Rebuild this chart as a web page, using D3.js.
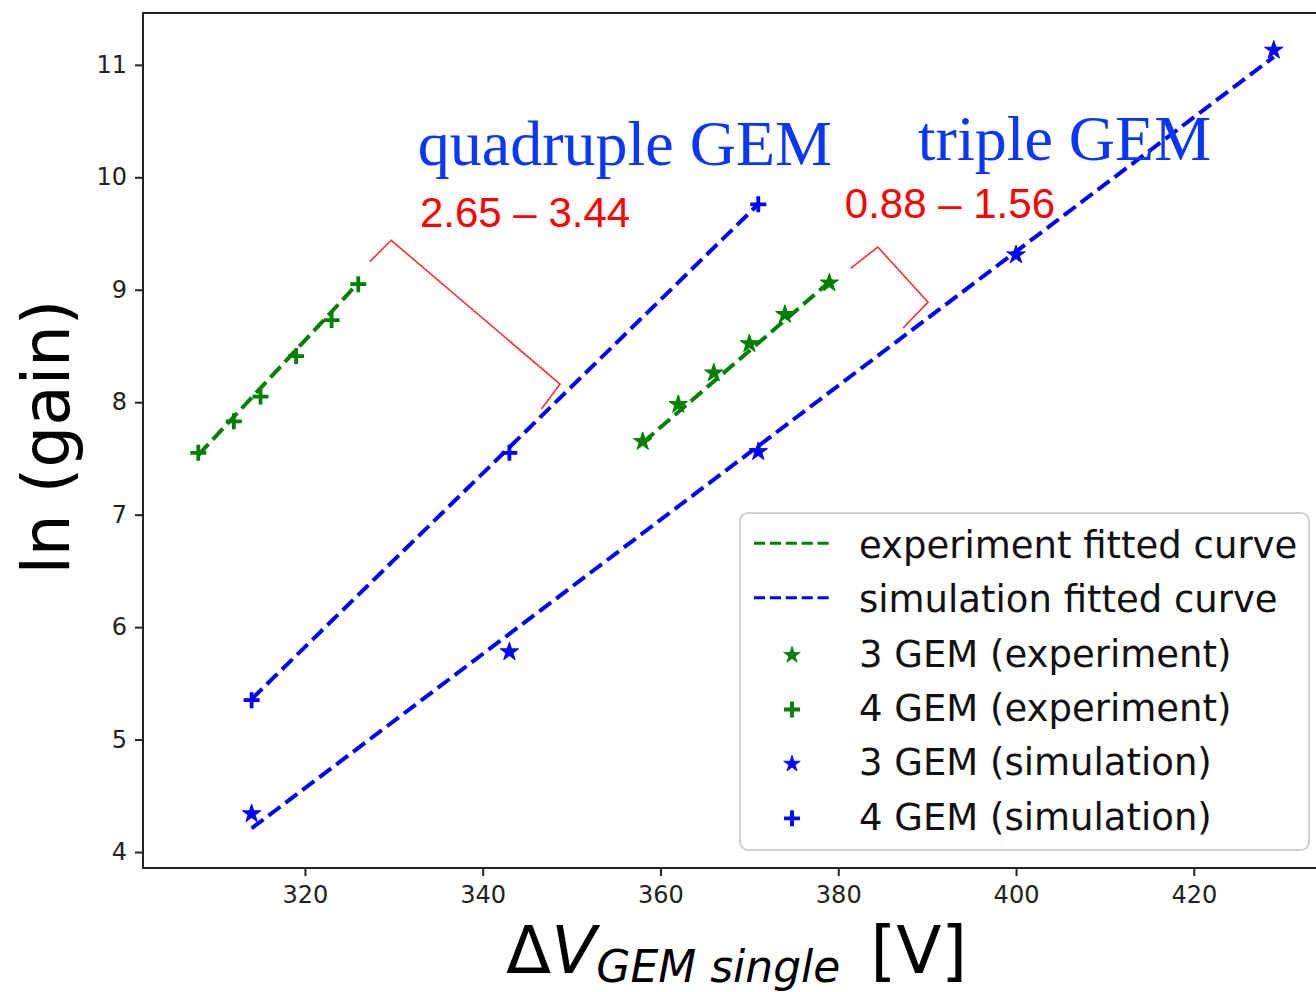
<!DOCTYPE html>
<html>
<head>
<meta charset="utf-8">
<script src="https://cdn.jsdelivr.net/npm/d3@7"></script>
<style>
  html, body { margin: 0; padding: 0; background: #fff; }
  svg { display: block; }
</style>
</head>
<body>
<svg id="chart" width="1316" height="992"></svg>
<script>
// Gain curves of triple and quadruple GEM stacks: ln(gain) vs. voltage per GEM foil

// 4 GEM (experiment)
const exp4V = [308, 312, 315, 319, 323, 326];
const exp4Gain = [7.55, 7.83, 8.05, 8.41, 8.73, 9.05];
// 3 GEM (experiment)
const exp3V = [358, 362, 366, 370, 374, 379];
const exp3Gain = [7.65, 7.98, 8.26, 8.52, 8.78, 9.06];
// 3 GEM (simulation)
const sim3V = [314, 343, 371, 400, 429];
const sim3Gain = [4.34, 5.78, 7.56, 9.31, 11.13];
// 4 GEM (simulation)
const sim4V = [314, 343, 371];
const sim4Gain = [5.35, 7.55, 9.76];

// fitted curves (end points)
const exp4FitV = [308, 326];
const exp4FitGain = [7.53, 9.06];
const exp3FitV = [358, 379];
const exp3FitGain = [7.64, 9.07];
const sim3FitV = [314, 429];
const sim3FitGain = [4.21, 11.07];
const sim4FitV = [314, 371];
const sim4FitGain = [5.36, 9.76];

// axis ticks
const xTicks = [320, 340, 360, 380, 400, 420];
const yTicks = [4, 5, 6, 7, 8, 9, 10, 11];

// gain-gap brackets (V, ln gain)
const quadBracketV = [327.3, 329.7, 348.7, 346.6];
const quadBracketGain = [9.25, 9.44, 8.16, 7.94];
const tripBracketV = [381.4, 384.45, 390.1, 387.3];
const tripBracketGain = [9.19, 9.38, 8.89, 8.66];

// legend
const legendLabels = [
  "experiment fitted curve",
  "simulation fitted curve",
  "3 GEM (experiment)",
  "4 GEM (experiment)",
  "3 GEM (simulation)",
  "4 GEM (simulation)"
];

const GREEN = "#008000";
const BLUE = "#0000ff";
const RED = "#ff0000";
const TEXTBLUE = "#0a36ff";
const FONT = "'DejaVu Sans', sans-serif";

const svg = d3.select("#chart");

const plot = { left: 143, top: 13, right: 1320, bottom: 868 };

const x = d3.scaleLinear().domain([301.78, 434.2]).range([plot.left, plot.right]);
const y = d3.scaleLinear().domain([3.858, 11.461]).range([plot.bottom, plot.top]);

const zip = (xs, ys) => xs.map((v, i) => [v, ys[i]]);
const line = d3.line().x(d => x(d[0])).y(d => y(d[1]));

// axes
const xAxis = d3.axisBottom(x).tickValues(xTicks).tickSize(8).tickPadding(10).tickFormat(d3.format("d"));
const yAxis = d3.axisLeft(y).tickValues(yTicks).tickSize(8).tickPadding(8).tickFormat(d3.format("d"));

const gx = svg.append("g").attr("transform", `translate(0,${plot.bottom})`).call(xAxis);
const gy = svg.append("g").attr("transform", `translate(${plot.left},0)`).call(yAxis);
[gx, gy].forEach(g => {
  g.select(".domain").remove();
  g.selectAll(".tick line").attr("stroke", "#222").attr("stroke-width", 2);
  g.selectAll(".tick text").attr("fill", "#222").style("font-family", FONT).style("font-size", "24px");
});

// frame
svg.append("rect")
  .attr("x", plot.left).attr("y", plot.top)
  .attr("width", plot.right - plot.left).attr("height", plot.bottom - plot.top)
  .attr("fill", "none").attr("stroke", "#222").attr("stroke-width", 2);

// fitted curves
const fits = [
  { v: exp4FitV, g: exp4FitGain, c: GREEN },
  { v: exp3FitV, g: exp3FitGain, c: GREEN },
  { v: sim4FitV, g: sim4FitGain, c: BLUE },
  { v: sim3FitV, g: sim3FitGain, c: BLUE }
];
svg.append("g").selectAll("path").data(fits).join("path")
  .attr("d", d => line(zip(d.v, d.g)))
  .attr("fill", "none")
  .attr("stroke", d => d.c)
  .attr("stroke-width", 4)
  .attr("stroke-dasharray", "14.8 6.4");

// markers
const starPath = (size) => d3.symbol().type(d3.symbolStar).size(size)();
function plusPath(h) { return `M${-h},0H${h}M0,${-h}V${h}`; }

function drawStars(vs, gs, color) {
  svg.append("g").selectAll("path").data(zip(vs, gs)).join("path")
    .attr("transform", d => `translate(${x(d[0])},${y(d[1])})`)
    .attr("d", starPath(105))
    .attr("fill", color).attr("stroke", color).attr("stroke-width", 1);
}
function drawPlus(vs, gs, color) {
  svg.append("g").selectAll("path").data(zip(vs, gs)).join("path")
    .attr("transform", d => `translate(${x(d[0])},${y(d[1])})`)
    .attr("d", plusPath(8))
    .attr("fill", "none").attr("stroke", color).attr("stroke-width", 3.8);
}
drawStars(exp3V, exp3Gain, GREEN);
drawPlus(exp4V, exp4Gain, GREEN);
drawStars(sim3V, sim3Gain, BLUE);
drawPlus(sim4V, sim4Gain, BLUE);

// gap brackets
[[quadBracketV, quadBracketGain], [tripBracketV, tripBracketGain]].forEach(([vs, gs]) => {
  svg.append("path")
    .attr("d", line(zip(vs, gs)))
    .attr("fill", "none").attr("stroke", "#ff3030").attr("stroke-width", 1.6);
});

// annotations
svg.append("text").attr("x", x(332.7)).attr("y", y(10.109))
  .attr("fill", TEXTBLUE).style("font-family", "'Liberation Serif', 'Times New Roman', serif")
  .style("font-size", "64px").text("quadruple GEM");
svg.append("text").attr("x", x(388.95)).attr("y", y(10.154))
  .attr("fill", TEXTBLUE).style("font-family", "'Liberation Serif', 'Times New Roman', serif")
  .style("font-size", "64px").text("triple GEM");
svg.append("text").attr("x", x(332.94)).attr("y", y(9.56))
  .attr("fill", RED).style("font-family", "'Liberation Sans', Arial, sans-serif")
  .style("font-size", "42px").text("2.65 – 3.44");
svg.append("text").attr("x", x(380.74)).attr("y", y(9.64))
  .attr("fill", RED).style("font-family", "'Liberation Sans', Arial, sans-serif")
  .style("font-size", "42px").text("0.88 – 1.56");

// axis labels
svg.append("text")
  .attr("transform", "translate(69,437) rotate(-90)")
  .attr("text-anchor", "middle")
  .style("font-family", FONT).style("font-size", "66px").attr("fill", "#000")
  .text("ln (gain)");

const xl = svg.append("text").attr("x", 506).attr("y", 973)
  .style("font-family", FONT).attr("fill", "#000");
xl.append("tspan").style("font-size", "66px").text("Δ");
xl.append("tspan").style("font-size", "66px").style("font-style", "italic").text("V");
xl.append("tspan").style("font-size", "44px").style("font-style", "italic").attr("dy", 9).text("GEM single");
xl.append("tspan").style("font-size", "66px").attr("dy", -9).attr("dx", 30).text("[V]");

// legend
const lg = svg.append("g").attr("transform", "translate(740,513)");
lg.append("rect").attr("width", 569).attr("height", 337).attr("rx", 8)
  .attr("fill", "#fff").attr("fill-opacity", 0.8)
  .attr("stroke", "#d0d0d0").attr("stroke-width", 2);

const rowY = i => 30.3 + i * 54.4;
const legendKeys = [
  { kind: "line", c: GREEN },
  { kind: "line", c: BLUE },
  { kind: "star", c: GREEN },
  { kind: "plus", c: GREEN },
  { kind: "star", c: BLUE },
  { kind: "plus", c: BLUE }
];
legendLabels.forEach((label, i) => {
  const key = legendKeys[i];
  const cy = rowY(i);
  if (key.kind === "line") {
    lg.append("line").attr("x1", 14).attr("x2", 89).attr("y1", cy).attr("y2", cy)
      .attr("stroke", key.c).attr("stroke-width", 3).attr("stroke-dasharray", "11.1 4.8");
  } else if (key.kind === "star") {
    lg.append("path").attr("transform", `translate(52,${cy + 3})`)
      .attr("d", starPath(85)).attr("fill", key.c).attr("stroke", key.c).attr("stroke-width", 0.8);
  } else {
    lg.append("path").attr("transform", `translate(52,${cy + 3})`)
      .attr("d", plusPath(8)).attr("fill", "none").attr("stroke", key.c).attr("stroke-width", 3.8);
  }
  lg.append("text").attr("x", 119).attr("y", cy + 14.5)
    .style("font-family", FONT).style("font-size", "37px").attr("fill", "#111")
    .text(label);
});
</script>
</body>
</html>
